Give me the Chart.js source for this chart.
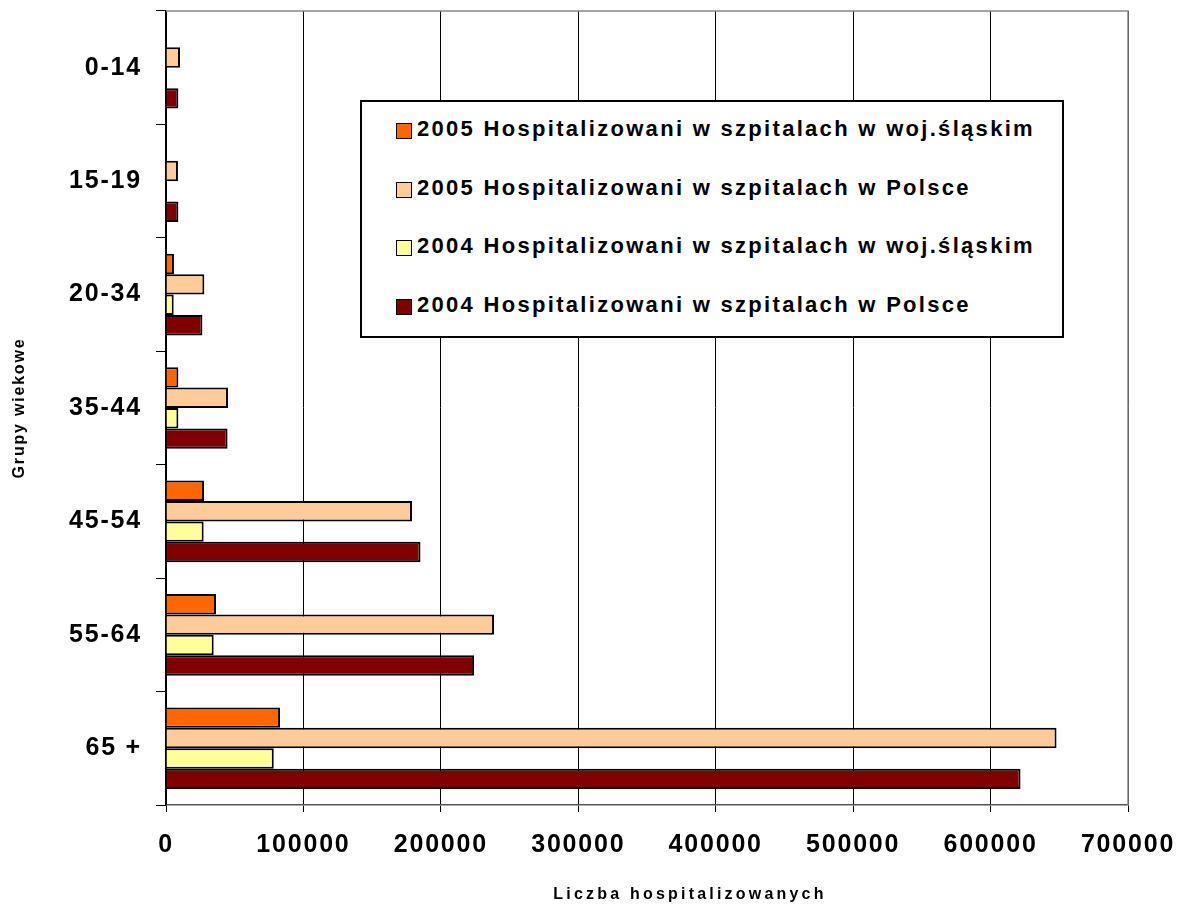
<!DOCTYPE html>
<html>
<head>
<meta charset="utf-8">
<script src="https://cdn.jsdelivr.net/npm/chart.js@4"></script>
<style>
    html, body { margin: 0; padding: 0; background: #fff; }
    #wrap { position: relative; width: 1181px; height: 905px; font-family: 'Liberation Sans', Arial, sans-serif; }
    #legendBox {
        position: absolute; left: 360px; top: 100px; width: 700px; height: 234px;
        border: 2px solid #000; background: #fff; box-sizing: content-box;
    }
    .leg-row { position: absolute; left: 0; height: 30px; display: flex; align-items: center; }
    .leg-mark { width: 14px; height: 14px; border: 1.5px solid #000; margin-left: 34px; margin-right: 5px; }
    .leg-text { font-weight: bold; font-size: 22px; letter-spacing: 2.3px; color: #000; position: relative; top: -2px; white-space: nowrap; }
    #xTitle {
        position: absolute; left: 0; width: 1380px; top: 885px; text-align: center;
        font-weight: bold; font-size: 16px; letter-spacing: 3.2px; color: #000; white-space: nowrap;
    }
</style>
</head>
<body>
<div id="wrap">
    <canvas id="hospChart" width="1181" height="905"></canvas>
    <div id="legendBox"></div>
    <div id="xTitle">Liczba hospitalizowanych</div>
</div>
<script>
// Age groups (categories)
const ageGroups = ['0-14', '15-19', '20-34', '35-44', '45-54', '55-64', '65 +'];

// Series values
const slask2005 = [null, null, 5800, 9000, 27700, 36400, 83000];
const polska2005 = [10200, 8700, 27900, 45100, 179000, 238700, 648000];
const slask2004 = [null, null, 5600, 9000, 27400, 34700, 78400];
const polska2004 = [9000, 9000, 26500, 44800, 185200, 224200, 621800];

const seriesLabels = [
    '2005 Hospitalizowani w szpitalach w woj.śląskim',
    '2005 Hospitalizowani w szpitalach w Polsce',
    '2004 Hospitalizowani w szpitalach w woj.śląskim',
    '2004 Hospitalizowani w szpitalach w Polsce'
];
const seriesColors = ['#FF6600', '#FFCC99', '#FFFF99', '#800000'];
const seriesValues = [slask2005, polska2005, slask2004, polska2004];

// X axis ticks
const xMin = 0;
const xMax = 700000;
const xStep = 100000;

const fontFamily = "'Liberation Sans', Arial, sans-serif";
Chart.defaults.font.family = fontFamily;
Chart.defaults.color = '#000';

// Excel-like wide letter spacing for canvas text
const spacingPlugin = {
    id: 'spacing',
    beforeDraw(chart) { chart.ctx.letterSpacing = '1.8px'; },
    afterDraw(chart) { chart.ctx.letterSpacing = '0px'; }
};

// Grey plot-area frame on top and right side
const framePlugin = {
    id: 'frame',
    beforeDatasetsDraw(chart) {
        const { ctx, chartArea } = chart;
        ctx.save();
        ctx.strokeStyle = '#888';
        ctx.lineWidth = 1.5;
        ctx.beginPath();
        ctx.moveTo(chartArea.left, chartArea.top);
        ctx.lineTo(chartArea.right, chartArea.top);
        ctx.lineTo(chartArea.right, chartArea.bottom);
        ctx.stroke();
        ctx.restore();
    }
};

const datasets = seriesLabels.map((label, i) => ({
    label: label,
    data: seriesValues[i],
    backgroundColor: seriesColors[i],
    borderColor: '#000',
    borderWidth: 2,
    categoryPercentage: 0.72,
    barPercentage: 1.0
}));

const chart = new Chart(document.getElementById('hospChart'), {
    type: 'bar',
    data: { labels: ageGroups, datasets: datasets },
    options: {
        indexAxis: 'y',
        responsive: false,
        animation: false,
        devicePixelRatio: 1,
        layout: { padding: { top: 11, right: 53, left: 0, bottom: 0 } },
        plugins: {
            legend: { display: false },
            tooltip: { enabled: false }
        },
        scales: {
            x: {
                min: xMin,
                max: xMax,
                ticks: {
                    stepSize: xStep,
                    padding: 18,
                    font: { size: 25, weight: 'bold' },
                    color: '#000',
                    callback: value => String(value)
                },
                grid: { color: '#000', lineWidth: 1, tickLength: 7 },
                border: { color: '#555', width: 1.5 },
                afterFit(scale) {
                    scale.height = 100;
                    scale.paddingLeft = 0;
                    scale.paddingRight = 0;
                }
            },
            y: {
                ticks: {
                    padding: 14,
                    font: { size: 25, weight: 'bold' },
                    color: '#000'
                },
                grid: { drawOnChartArea: false, color: '#000', tickLength: 10 },
                border: { color: '#000', width: 1.5 },
                title: {
                    display: true,
                    text: 'Grupy wiekowe',
                    font: { size: 16, weight: 'bold' },
                    color: '#000',
                    padding: { top: 10, bottom: 0 }
                },
                afterFit(scale) {
                    scale.width = 166;
                    scale.paddingTop = 0;
                    scale.paddingBottom = 0;
                }
            }
        }
    },
    plugins: [spacingPlugin, framePlugin]
});

// Legend box built from the datasets
const legendBox = document.getElementById('legendBox');
seriesLabels.forEach((label, i) => {
    const row = document.createElement('div');
    row.className = 'leg-row';
    row.style.top = (14 + i * 58.5) + 'px';
    const mark = document.createElement('div');
    mark.className = 'leg-mark';
    mark.style.background = seriesColors[i];
    const txt = document.createElement('span');
    txt.className = 'leg-text';
    txt.textContent = label;
    row.appendChild(mark);
    row.appendChild(txt);
    legendBox.appendChild(row);
});
</script>
</body>
</html>
